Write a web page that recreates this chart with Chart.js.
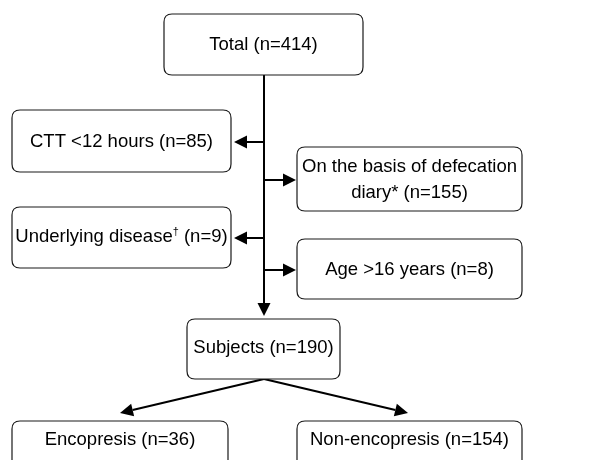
<!DOCTYPE html>
<html>
<head>
<meta charset="utf-8">
<script src="https://cdn.jsdelivr.net/npm/chart.js@4"></script>
<style>
  html, body { margin: 0; padding: 0; background: #fff; }
  #wrap { width: 595px; height: 460px; }
</style>
</head>
<body>
<div id="wrap"><canvas id="flow" width="595" height="460"></canvas></div>
<script>
// ---- data ----
const nodeNames = ['Total', 'CTT <12 hours', 'On the basis of defecation|diary*', 'Underlying disease†', 'Age >16 years', 'Subjects', 'Encopresis', 'Non-encopresis'];
const nodeCounts = [414, 85, 155, 9, 8, 190, 36, 154];
// flow: excluded side boxes and final split, by node index
const excluded = [1, 2, 3, 4];
const splits = [6, 7];

// ---- layout (box edges in chart units: x0, x1, y0, y1) ----
const boxes = [
  [164, 363, 14, 75],
  [12, 231, 110, 172],
  [297, 522, 147, 211],
  [12, 231, 207, 268],
  [297, 522, 239, 299],
  [187, 340, 319, 379],
  [12, 228, 421, 476],
  [297, 522, 421, 476]
];
const textY = [45, 142, 180, 237, 270, 348, 440, 440];
const trunkX = 264;
const sideY = [142, 180, 238, 270];

const FONT = '"Liberation Sans", Arial, sans-serif';
const FONT_SIZE = 18.5;

function labelLines(i) {
  const parts = nodeNames[i].split('|');
  parts[parts.length - 1] += ' (n=' + nodeCounts[i] + ')';
  return parts;
}

function roundRect(ctx, x0, y0, x1, y1, r) {
  ctx.beginPath();
  ctx.moveTo(x0 + r, y0);
  ctx.lineTo(x1 - r, y0);
  ctx.quadraticCurveTo(x1, y0, x1, y0 + r);
  ctx.lineTo(x1, y1 - r);
  ctx.quadraticCurveTo(x1, y1, x1 - r, y1);
  ctx.lineTo(x0 + r, y1);
  ctx.quadraticCurveTo(x0, y1, x0, y1 - r);
  ctx.lineTo(x0, y0 + r);
  ctx.quadraticCurveTo(x0, y0, x0 + r, y0);
  ctx.closePath();
}

function arrow(ctx, x0, y0, x1, y1) {
  const ang = Math.atan2(y1 - y0, x1 - x0);
  const L = 13, W = 6.5;
  const bx = x1 - L * Math.cos(ang), by = y1 - L * Math.sin(ang);
  ctx.beginPath();
  ctx.moveTo(x0, y0);
  ctx.lineTo(bx, by);
  ctx.stroke();
  ctx.beginPath();
  ctx.moveTo(x1, y1);
  ctx.lineTo(bx + W * Math.sin(ang), by - W * Math.cos(ang));
  ctx.lineTo(bx - W * Math.sin(ang), by + W * Math.cos(ang));
  ctx.closePath();
  ctx.fill();
}

// draws one text line; the dagger is drawn as a small superscript
function drawLine(ctx, str, cx, cy, size) {
  const segs = str.split(/(†)/).filter(s => s);
  const big = size + 'px ' + FONT, small = Math.round(size * 0.62) + 'px ' + FONT;
  let w = 0;
  segs.forEach(s => { ctx.font = s === '†' ? small : big; w += ctx.measureText(s).width; });
  let x = cx - w / 2;
  ctx.textAlign = 'left';
  ctx.textBaseline = 'middle';
  segs.forEach(s => {
    if (s === '†') {
      ctx.font = small;
      ctx.fillText(s, x, cy - size * 0.28);
    } else {
      ctx.font = big;
      ctx.fillText(s, x, cy);
    }
    x += ctx.measureText(s).width;
  });
}

const flowPlugin = {
  id: 'flow',
  afterDatasetsDraw(chart) {
    const ctx = chart.ctx;
    const sx = v => chart.scales.x.getPixelForValue(v);
    const sy = v => chart.scales.y.getPixelForValue(v);
    ctx.save();
    ctx.strokeStyle = '#000';
    ctx.fillStyle = '#000';
    ctx.lineWidth = 2;

    // trunk
    const subj = boxes[5];
    arrow(ctx, sx(trunkX), sy(boxes[0][3]), sx(trunkX), sy(subj[2] - 3));
    // side exclusions
    excluded.forEach((n, k) => {
      const b = boxes[n];
      const left = b[1] < trunkX;
      arrow(ctx, sx(trunkX), sy(sideY[k]), sx(left ? b[1] + 3 : b[0] - 1), sy(sideY[k]));
    });
    // splits
    splits.forEach((n, k) => {
      const tx = k === 0 ? 120 : 408;
      arrow(ctx, sx(trunkX), sy(subj[3]), sx(tx), sy(boxes[n][2] - 8));
    });

    // boxes
    boxes.forEach((b, i) => {
      roundRect(ctx, sx(b[0]), sy(b[2]), sx(b[1]), sy(b[3]), 8);
      ctx.fillStyle = '#fff';
      ctx.fill();
      ctx.lineWidth = 1.2;
      ctx.strokeStyle = '#1a1a1a';
      ctx.stroke();
      ctx.fillStyle = '#000';
      const lines = labelLines(i);
      const cx = (sx(b[0]) + sx(b[1])) / 2;
      const lh = 26;
      lines.forEach((ln, j) => {
        const cy = sy(textY[i]) + (j - (lines.length - 1) / 2) * lh;
        drawLine(ctx, ln, cx, cy, FONT_SIZE);
      });
    });
    ctx.restore();
  }
};

new Chart(document.getElementById('flow'), {
  type: 'scatter',
  data: {
    datasets: [{
      label: 'nodes',
      data: boxes.map((b, i) => ({ x: (b[0] + b[1]) / 2, y: textY[i], n: nodeCounts[i] })),
      pointRadius: 0
    }]
  },
  options: {
    responsive: false,
    animation: false,
    layout: { padding: 0 },
    plugins: { legend: { display: false }, tooltip: { enabled: false } },
    scales: {
      x: { type: 'linear', min: 0, max: 595, display: false },
      y: { type: 'linear', min: 0, max: 460, reverse: true, display: false }
    }
  },
  plugins: [flowPlugin]
});
</script>
</body>
</html>
